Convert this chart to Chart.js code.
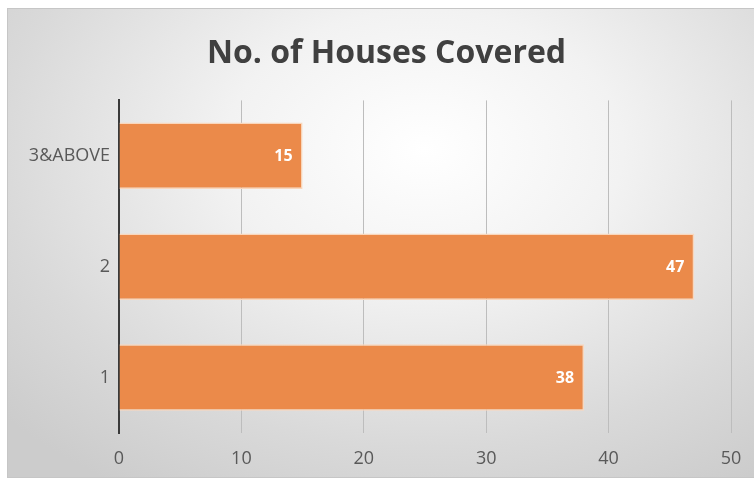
<!DOCTYPE html>
<html>
<head>
<meta charset="utf-8">
<script src="https://cdn.jsdelivr.net/npm/chart.js@4.4.0/dist/chart.umd.min.js"></script>
<style>
  html, body { margin: 0; padding: 0; background: #ffffff; overflow: hidden; }
  #box {
    position: absolute; left: 7px; top: 8px; width: 759px; height: 470px;
    box-sizing: border-box; border: 1px solid #c6c6c6;
    background: radial-gradient(ellipse 75% 85% at 55% 30%, #ffffff 0%, #f2f2f2 35%, #d9d9d9 75%, #cccccc 100%);
  }
  canvas { display: block; }
</style>
</head>
<body>
<div id="box"><canvas id="chart1" width="757" height="468"></canvas></div>
<script>
// houses covered per member count
var categories = ['3&ABOVE', '2', '1'];
var houses = [15, 47, 38];
var xTicks = [0, 10, 20, 30, 40, 50];

// white value labels just inside the end of each bar
var barValueLabels = {
  id: 'barValueLabels',
  afterDatasetsDraw: function(chart) {
    var ctx = chart.ctx;
    var meta = chart.getDatasetMeta(0);
    ctx.save();
    ctx.fillStyle = '#ffffff';
    ctx.font = 'bold 16px "Open Sans", sans-serif';
    ctx.textAlign = 'right';
    ctx.textBaseline = 'middle';
    meta.data.forEach(function(bar, i) {
      ctx.fillText(String(chart.data.datasets[0].data[i]), bar.x - 10, bar.y + 1);
    });
    ctx.restore();
  }
};

var config = {
  type: 'bar',
  data: {
    labels: categories,
    datasets: [
      {
        label: 'No. of Houses Covered',
        data: houses,
        backgroundColor: '#eb8a4a',
        borderColor: '#f9d7bd',
        borderWidth: 1.5,
        barPercentage: 0.6,
        categoryPercentage: 1.0
      }
    ]
  },
  options: {
    indexAxis: 'y',
    responsive: false,
    animation: false,
    layout: { padding: 0 },
    plugins: {
      legend: { display: false },
      tooltip: { enabled: false },
      title: {
        display: true,
        text: 'No. of Houses Covered',
        color: '#404040',
        font: { family: '"Open Sans", sans-serif', size: 32, weight: 'bold', lineHeight: 1.2 },
        padding: { top: 26, bottom: 27 }
      }
    },
    scales: {
      x: {
        min: 0,
        max: 50,
        afterBuildTicks: function(scale) {
          scale.ticks = xTicks.map(function(v) { return { value: v }; });
        },
        afterFit: function(scale) {
          // keep room on the right so the plot ends where the 50 line sits
          scale.height = 44;
          scale.paddingRight = 34;
          scale.paddingLeft = 0;
        },
        grid: { color: '#bdbdbd', lineWidth: 1, drawTicks: false },
        border: { display: false },
        ticks: {
          color: '#595959',
          padding: 15,
          font: { family: '"Open Sans", sans-serif', size: 18 }
        }
      },
      y: {
        afterFit: function(scale) { scale.width = 111; },
        grid: { display: false, drawTicks: false },
        border: { display: true, color: '#3a3a3a', width: 2 },
        ticks: {
          color: '#595959',
          padding: 9,
          font: { family: '"Open Sans", sans-serif', size: 18 }
        }
      }
    }
  },
  plugins: [barValueLabels]
};

var chart = new Chart(document.getElementById('chart1'), config);
</script>
</body>
</html>
